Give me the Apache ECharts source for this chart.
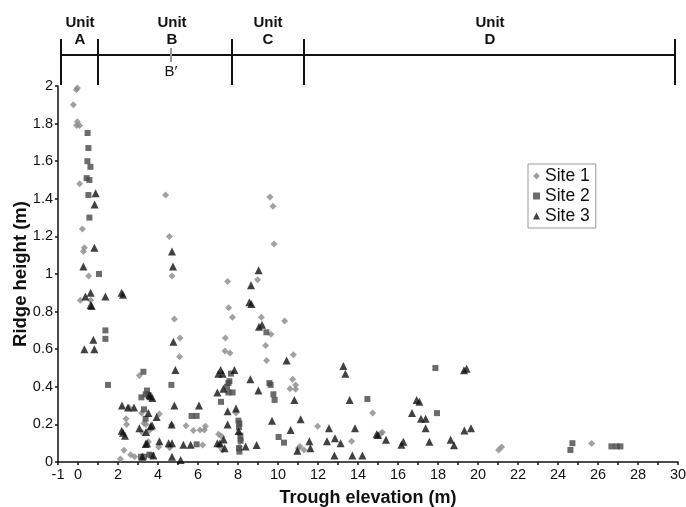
<!DOCTYPE html>
<html>
<head>
<meta charset="utf-8">
<script src="https://cdn.jsdelivr.net/npm/echarts@6/dist/echarts.min.js"></script>
<style>
  html, body { margin: 0; padding: 0; background: #fff; }
  #chart { width: 686px; height: 507px; }
</style>
</head>
<body>
<div id="chart"></div>
<script>
// tick labels
var xTickLabels = [-1, 0, 2, 4, 6, 8, 10, 12, 14, 16, 18, 20, 22, 24, 26, 28, 30];
var yTickLabels = [0, 0.2, 0.4, 0.6, 0.8, 1, 1.2, 1.4, 1.6, 1.8, 2];

// units along the top
var unitNames = ['A', 'B', 'C', 'D'];
var unitEdges = [-0.85, 1.0, 7.7, 11.3, 29.85];
var unitLabelX = [0.1, 4.7, 9.5, 20.6];
var subUnitX = [4.65];
var subUnitName = ['B\u2032'];

// [trough elevation, ridge height]
var site1 = [
    [-0.03, 1.99], [-0.08, 1.98], [-0.23, 1.90], [-0.03, 1.81], [-0.07, 1.79], [0.08, 1.79], [0.08, 1.48],
    [0.22, 1.24], [0.32, 1.14], [0.27, 1.12], [0.53, 0.99], [0.12, 0.86], [0.63, 0.86],
    [4.38, 1.42], [4.57, 1.20], [4.7, 0.99], [4.82, 0.76], [5.1, 0.66], [5.08, 0.56],
    [3.07, 0.46], [2.55, 0.29], [2.4, 0.23], [2.43, 0.20], [2.3, 0.062], [2.12, 0.016], [2.63, 0.039],
    [2.83, 0.028], [3.18, 0.26], [3.3, 0.206], [3.4, 0.20], [3.57, 0.167], [3.23, 0.156], [3.52, 0.108],
    [4.07, 0.255], [4.03, 0.08], [4.68, 0.197], [4.57, 0.08], [4.6, 0.077], [5.4, 0.193], [5.77, 0.167],
    [6.1, 0.17], [6.32, 0.17], [6.37, 0.19], [6.23, 0.09],
    [9.6, 1.41], [9.75, 1.36], [9.8, 1.16], [8.98, 0.97], [7.48, 0.96], [7.53, 0.82], [7.72, 0.77],
    [9.17, 0.77], [10.33, 0.75], [9.65, 0.68], [7.37, 0.66], [9.38, 0.62], [7.35, 0.59], [7.6, 0.58],
    [9.43, 0.54], [10.77, 0.57], [10.73, 0.44], [10.88, 0.41], [10.6, 0.39], [10.88, 0.387], [7.9, 0.26],
    [8.07, 0.15], [8.13, 0.117], [7.03, 0.147], [7.18, 0.135], [7.07, 0.085], [7.22, 0.064], [8.08, 0.083],
    [11.1, 0.083], [11.02, 0.073], [11.3, 0.064], [11.98, 0.19], [13.68, 0.11], [14.73, 0.26],
    [15.15, 0.152], [15.22, 0.158], [21.03, 0.064], [21.18, 0.08], [25.68, 0.099]
];
var site2 = [
    [0.48, 1.75], [0.52, 1.67], [0.47, 1.60], [0.62, 1.57], [0.43, 1.51], [0.57, 1.50], [0.52, 1.42],
    [0.57, 1.30], [1.05, 1.00], [1.37, 0.70], [1.37, 0.655], [1.5, 0.41],
    [3.27, 0.48], [3.45, 0.38], [3.38, 0.36], [3.53, 0.356], [3.17, 0.344], [3.3, 0.28], [3.38, 0.23],
    [3.15, 0.028], [3.3, 0.028], [3.57, 0.039], [3.67, 0.035], [4.67, 0.41], [5.68, 0.245], [5.93, 0.245],
    [5.93, 0.094], [9.42, 0.69],
    [7.65, 0.47], [7.57, 0.43], [7.52, 0.42], [7.45, 0.40], [7.52, 0.37], [7.73, 0.37], [7.15, 0.32],
    [9.57, 0.42], [9.63, 0.41], [9.77, 0.36], [9.83, 0.33], [8.02, 0.22], [8.07, 0.205], [8.05, 0.185],
    [8.12, 0.14], [8.13, 0.113], [8.05, 0.073], [8.07, 0.055], [10.03, 0.133], [10.3, 0.103],
    [14.47, 0.335], [17.87, 0.50], [17.95, 0.26], [24.62, 0.064], [24.72, 0.10],
    [26.67, 0.083], [26.93, 0.083], [27.12, 0.083]
];
var site3 = [
    [0.88, 1.43], [0.83, 1.37], [0.82, 1.14], [0.27, 1.04], [0.37, 0.88], [0.63, 0.90], [0.63, 0.835],
    [0.68, 0.83], [1.37, 0.88], [2.18, 0.90], [2.25, 0.89], [0.32, 0.60], [0.82, 0.60], [0.77, 0.65],
    [4.7, 1.12], [4.75, 1.04], [4.77, 0.64], [4.87, 0.49], [4.82, 0.30],
    [2.2, 0.30], [2.5, 0.29], [2.8, 0.29], [2.18, 0.166], [2.25, 0.156], [2.35, 0.14], [3.52, 0.26],
    [3.07, 0.18], [3.63, 0.19], [3.7, 0.195], [3.4, 0.16], [3.45, 0.10], [3.38, 0.096], [3.93, 0.24],
    [4.07, 0.11], [3.57, 0.355], [3.63, 0.35], [3.72, 0.34], [3.22, 0.028], [3.77, 0.035], [4.68, 0.2],
    [4.53, 0.10], [4.7, 0.10], [4.7, 0.028], [5.13, 0.01], [5.27, 0.092], [5.63, 0.092], [6.05, 0.30],
    [9.03, 1.02], [8.65, 0.94], [8.57, 0.85], [8.67, 0.84], [9.05, 0.72], [9.2, 0.73], [10.43, 0.54],
    [13.27, 0.51], [13.37, 0.47], [7.02, 0.47], [7.13, 0.49], [7.23, 0.47], [7.82, 0.49], [7.27, 0.39],
    [6.97, 0.37], [8.62, 0.44], [9.02, 0.38], [10.82, 0.33], [13.58, 0.33], [7.48, 0.27], [7.9, 0.285],
    [7.48, 0.20], [8.03, 0.165], [9.7, 0.22], [11.13, 0.227], [10.63, 0.17], [12.55, 0.18], [13.85, 0.18],
    [14.93, 0.147], [7.28, 0.12], [12.85, 0.126], [12.45, 0.11], [13.13, 0.10], [11.57, 0.11],
    [10.97, 0.06], [11.62, 0.073], [6.97, 0.10], [7.1, 0.10], [7.33, 0.073], [8.38, 0.082], [8.93, 0.09],
    [12.82, 0.035], [13.72, 0.035], [14.22, 0.035],
    [15.0, 0.144], [15.4, 0.119], [16.17, 0.092], [16.27, 0.108], [16.7, 0.26], [16.93, 0.33],
    [17.07, 0.32], [17.15, 0.23], [17.38, 0.23], [17.38, 0.18], [17.57, 0.108], [18.63, 0.119],
    [18.8, 0.089], [19.3, 0.488], [19.43, 0.496], [19.32, 0.167], [19.65, 0.18]
];

var font = 'Liberation Sans, Arial, sans-serif';
var yTop = yTickLabels[yTickLabels.length - 1];

var myChart = echarts.init(document.getElementById('chart'));

option = {
    animation: false,
    grid: {
        left: 58,
        right: 8,
        top: 86,
        bottom: 45,
        containLabel: false,
        outerBoundsMode: 'none'
    },
    legend: {
        data: ['Site 1', 'Site 2', 'Site 3'],
        orient: 'vertical',
        left: 528,
        top: 164,
        itemWidth: 7,
        itemHeight: 7,
        itemGap: 2,
        padding: [3, 6, 3, 5],
        borderColor: '#999',
        borderWidth: 1,
        textStyle: {
            fontFamily: font,
            fontSize: 17.5,
            lineHeight: 18,
            color: '#111'
        }
    },
    xAxis: {
        type: 'value',
        min: -1,
        max: 30,
        interval: 1,
        name: 'Trough elevation (m)',
        nameLocation: 'middle',
        nameGap: 27,
        nameTextStyle: {
            fontFamily: font,
            fontSize: 18,
            fontWeight: 'bold',
            color: '#111'
        },
        splitLine: {show: false},
        axisLine: {onZero: false, lineStyle: {color: '#111', width: 1.5}},
        axisTick: {length: 3, lineStyle: {color: '#111', width: 1.5}},
        axisLabel: {
            margin: 5,
            fontFamily: font,
            fontSize: 14.5,
            color: '#111',
            formatter: function (v) {
                return xTickLabels.indexOf(v) >= 0 ? String(v) : '';
            }
        }
    },
    yAxis: {
        type: 'value',
        min: 0,
        max: 2,
        interval: 0.2,
        name: 'Ridge height (m)',
        nameLocation: 'middle',
        nameGap: 28,
        nameMoveOverlap: false,
        nameTextStyle: {
            fontFamily: font,
            fontSize: 18.5,
            fontWeight: 'bold',
            color: '#111'
        },
        splitLine: {show: false},
        axisLine: {show: true, onZero: false, lineStyle: {color: '#111', width: 1.5}},
        axisTick: {show: true, length: 3, lineStyle: {color: '#111', width: 1.5}},
        axisLabel: {
            margin: 5,
            fontFamily: font,
            fontSize: 14.5,
            color: '#111',
            formatter: function (v) {
                var r = Math.round(v * 10) / 10;
                return yTickLabels.indexOf(r) >= 0 ? String(r) : '';
            }
        }
    },
    series: [
        {
            name: 'Site 1',
            type: 'scatter',
            symbol: 'diamond',
            symbolSize: 7,
            itemStyle: {color: '#8a8a8a'},
            data: site1
        },
        {
            name: 'Site 2',
            type: 'scatter',
            symbol: 'rect',
            symbolSize: 6,
            itemStyle: {color: '#474747'},
            data: site2
        },
        {
            name: 'Site 3',
            type: 'scatter',
            symbol: 'triangle',
            symbolSize: 8,
            itemStyle: {color: '#111'},
            data: site3
        },
        {
            // unit boundary ticks
            type: 'custom',
            silent: true,
            clip: false,
            data: unitEdges.map(function (e) { return [e, yTop]; }),
            renderItem: function (params, api) {
                var p = api.coord([api.value(0), yTop]);
                return {
                    type: 'line',
                    shape: {x1: p[0], y1: p[1] - 47, x2: p[0], y2: p[1] - 1},
                    style: {stroke: '#111', lineWidth: 2}
                };
            }
        },
        {
            // unit bar and labels
            type: 'custom',
            silent: true,
            clip: false,
            data: unitNames.map(function (n, i) { return [unitLabelX[i], yTop, n]; }),
            renderItem: function (params, api) {
                var i = params.dataIndex;
                var a = api.coord([unitEdges[i], yTop]);
                var b = api.coord([unitEdges[i + 1], yTop]);
                var c = api.coord([api.value(0), yTop]);
                return {
                    type: 'group',
                    children: [
                        {
                            type: 'line',
                            shape: {x1: a[0], y1: a[1] - 31, x2: b[0], y2: b[1] - 31},
                            style: {stroke: '#111', lineWidth: 2}
                        },
                        {
                            type: 'text',
                            x: c[0],
                            y: c[1] - 54.5,
                            style: {
                                text: 'Unit\n' + unitNames[i],
                                font: 'bold 15px ' + font,
                                lineHeight: 17.5,
                                fill: '#111',
                                align: 'center',
                                verticalAlign: 'middle'
                            }
                        }
                    ]
                };
            }
        },
        {
            // sub-unit marker
            type: 'custom',
            silent: true,
            clip: false,
            data: subUnitX.map(function (x) { return [x, yTop]; }),
            renderItem: function (params, api) {
                var p = api.coord([api.value(0), yTop]);
                return {
                    type: 'group',
                    children: [
                        {
                            type: 'line',
                            shape: {x1: p[0], y1: p[1] - 38, x2: p[0], y2: p[1] - 24},
                            style: {stroke: '#999', lineWidth: 2}
                        },
                        {
                            type: 'text',
                            x: p[0],
                            y: p[1] - 14.5,
                            style: {
                                text: subUnitName[params.dataIndex],
                                font: '15px ' + font,
                                fill: '#111',
                                align: 'center',
                                verticalAlign: 'middle'
                            }
                        }
                    ]
                };
            }
        }
    ]
};

myChart.setOption(option);
</script>
</body>
</html>
